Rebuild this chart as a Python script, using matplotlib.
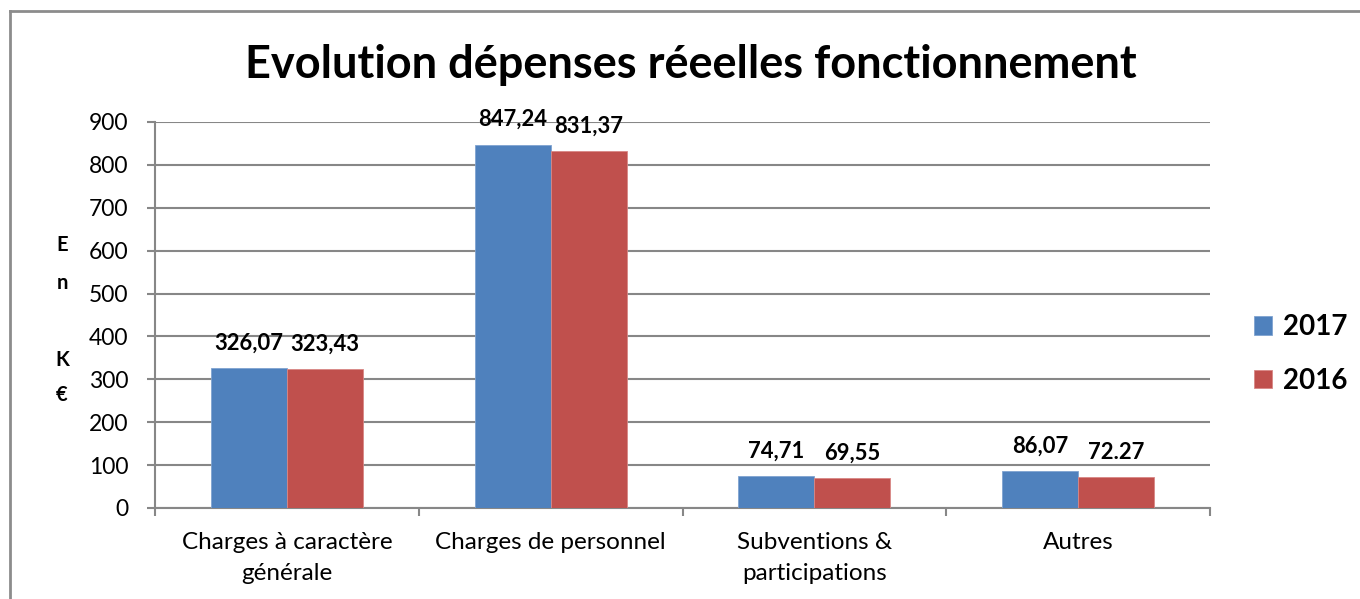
import matplotlib
matplotlib.use("Agg")
import matplotlib.pyplot as plt
import numpy as np
from matplotlib.lines import Line2D

categories = ["Charges à caractère\ngénérale", "Charges de personnel",
              "Subventions &\nparticipations", "Autres"]
series_names = ["2017", "2016"]
values_2017 = [326.07, 847.24, 74.71, 86.07]
values_2016 = [323.43, 831.37, 69.55, 72.27]
labels_2017 = ["326,07", "847,24", "74,71", "86,07"]
labels_2016 = ["323,43", "831,37", "69,55", "72.27"]
yticks = [0, 100, 200, 300, 400, 500, 600, 700, 800, 900]
title = "Evolution dépenses réeelles fonctionnement"
ylabel_letters = ["E", "n", "", "K", "€"]

plt.rcParams['font.family'] = ['Lato', 'DejaVu Sans']

W, H = 1360, 599
fig = plt.figure(figsize=(W / 100, H / 100), dpi=100)
ax = fig.add_axes([155 / W, 1 - 508 / H, (1210 - 155) / W, (508 - 122) / H])

grey = "#878787"
blue = "#4F81BD"
red = "#C0504D"

x = np.arange(len(categories))
bw = 0.288
b1 = ax.bar(x - bw / 2, values_2017, bw, color=blue, edgecolor="#7FA3D0", linewidth=0.6,
            label=series_names[0], zorder=3)
b2 = ax.bar(x + bw / 2, values_2016, bw, color=red, edgecolor="#D88785", linewidth=0.6,
            label=series_names[1], zorder=3)

for bars, labs in ((b1, labels_2017), (b2, labels_2016)):
    for rect, lab in zip(bars, labs):
        ax.annotate(lab, (rect.get_x() + rect.get_width() / 2, rect.get_height()),
                    xytext=(0, 18), textcoords="offset points", ha="center", va="center",
                    fontsize=15.8, fontweight="bold", color="black", zorder=4,
                    annotation_clip=False)

ax.set_xlim(-0.5, len(categories) - 0.5)
ax.set_ylim(0, 900)
ax.set_yticks(yticks)
ax.set_yticklabels([str(v) for v in yticks], fontsize=16.5)
ax.yaxis.grid(True, color=grey, linewidth=1.5, zorder=0)
ax.set_axisbelow(True)

ax.set_xticks(x)
ax.set_xticklabels(categories, fontsize=17.5, linespacing=1.6)
ax.set_xticks(np.arange(len(categories) + 1) - 0.5, minor=True)
ax.tick_params(axis="x", which="major", length=0, pad=17)
ax.tick_params(axis="x", which="minor", length=6, width=1.5, color=grey, direction="out")
ax.tick_params(axis="y", length=6, width=1.5, color=grey, direction="out", pad=13)

for s in ("top", "right"):
    ax.spines[s].set_visible(False)
for s in ("left", "bottom"):
    ax.spines[s].set_color(grey)
    ax.spines[s].set_linewidth(1.5)

fig.text(691 / W, 1 - 65 / H, title, ha="center", va="center", fontsize=32.5, fontweight="bold")

ys = [245, 283, 321, 360, 395]
for letter, yy in zip(ylabel_letters, ys):
    if letter:
        fig.text(62 / W, 1 - yy / H, letter, ha="center", va="center", fontsize=14.5,
                 fontweight="bold")

leg = fig.legend(handles=[b1, b2], labels=series_names, loc="center left",
                 bbox_to_anchor=(1254 / W, 1 - 354 / H), frameon=False, borderpad=0,
                 borderaxespad=0,
                 prop={"size": 20, "weight": "bold"}, handlelength=0.65, handleheight=0.65,
                 handletextpad=0.4, labelspacing=1.0)

# outer frame (top and left visible)
fig.add_artist(Line2D([10 / W, 10 / W], [0, 1 - 10.5 / H], transform=fig.transFigure,
                      color="#8c8c8c", linewidth=2))
fig.add_artist(Line2D([10 / W, 1], [1 - 10.5 / H, 1 - 10.5 / H], transform=fig.transFigure,
                      color="#8c8c8c", linewidth=2))

fig.savefig("out.png", dpi=100)
